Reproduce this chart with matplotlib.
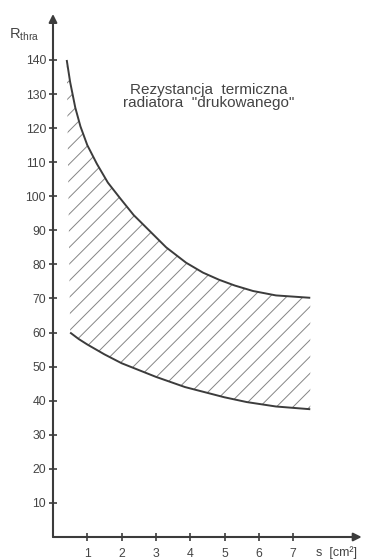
import matplotlib.pyplot as plt

plt.rcParams['font.family'] = ['Liberation Sans', 'DejaVu Sans']
plt.rcParams['mathtext.fontset'] = 'custom'
plt.rcParams['mathtext.rm'] = 'Liberation Sans'
plt.rcParams['hatch.linewidth'] = 0.7

# krzywa gorna (maksymalna rezystancja)
s_upper = [0.4, 0.5, 0.65, 0.8, 1.0, 1.28, 1.6, 1.95, 2.35, 2.8, 3.3,
           3.88, 4.37, 4.84, 5.3, 5.83, 6.5, 7.5]
r_upper = [140, 133.5, 126, 120.5, 115, 109.5, 104, 99.5, 94.5, 90, 85,
           80.5, 77.6, 75.5, 73.8, 72.2, 70.9, 70.2]

# krzywa dolna (minimalna rezystancja)
s_lower = [0.5, 0.75, 1.0, 1.5, 2.0, 3.0, 3.85, 5.0, 5.65, 6.5, 7.5]
r_lower = [60, 58.1, 56.5, 53.6, 51, 47, 44, 41, 39.6, 38.3, 37.5]

x_ticks = [1, 2, 3, 4, 5, 6, 7]
y_ticks = [10, 20, 30, 40, 50, 60, 70, 80, 90, 100, 110, 120, 130, 140]

line_col = '#3c3c3c'
text_col = '#444444'

fig = plt.figure(figsize=(3.72, 5.60), dpi=100)
ax = fig.add_axes([0, 0, 1, 1])
ax.set_xlim(-1.545, 9.30)
ax.set_ylim(-6.75, 157.6)

# obszar kreskowany miedzy krzywymi
ax.fill(s_upper + s_lower[::-1], r_upper + r_lower[::-1],
        facecolor='none', edgecolor='#858585', hatch='//', linewidth=0)

ax.plot(s_upper, r_upper, color=line_col, lw=1.4, solid_capstyle='butt')
ax.plot(s_lower, r_lower, color=line_col, lw=1.4, solid_capstyle='butt')

# osie ze strzalkami
arrow = dict(arrowstyle='-|>', color=line_col, lw=1.5, mutation_scale=12,
             shrinkA=0, shrinkB=0)
ax.annotate('', xy=(0, 153.5), xytext=(0, 0), arrowprops=arrow)
ax.annotate('', xy=(9.0, 0), xytext=(0, 0), arrowprops=arrow)

for side in ['top', 'right', 'left', 'bottom']:
    ax.spines[side].set_visible(False)
ax.spines['left'].set_position(('data', 0))
ax.spines['bottom'].set_position(('data', 0))

ax.set_xticks(x_ticks)
ax.set_yticks(y_ticks)
ax.tick_params(direction='inout', length=6, width=1.2, color=line_col,
               labelcolor=text_col, labelsize=8.8)
ax.tick_params(axis='y', pad=2)
ax.tick_params(axis='x', pad=5)

ax.text(-1.27, 147.3, r'$\mathrm{R_{thra}}$', fontsize=10.5, color=text_col,
        ha='left', va='center')
ax.text(7.67, -4.7, 's  [cm²]', fontsize=9, color=text_col,
        ha='left', va='center')

ax.text(4.55, 129.2, 'Rezystancja  termiczna\nradiatora  "drukowanego"',
        fontsize=11, color=text_col, ha='center', va='center',
        linespacing=0.95)

fig.savefig('out.png', dpi=100)
